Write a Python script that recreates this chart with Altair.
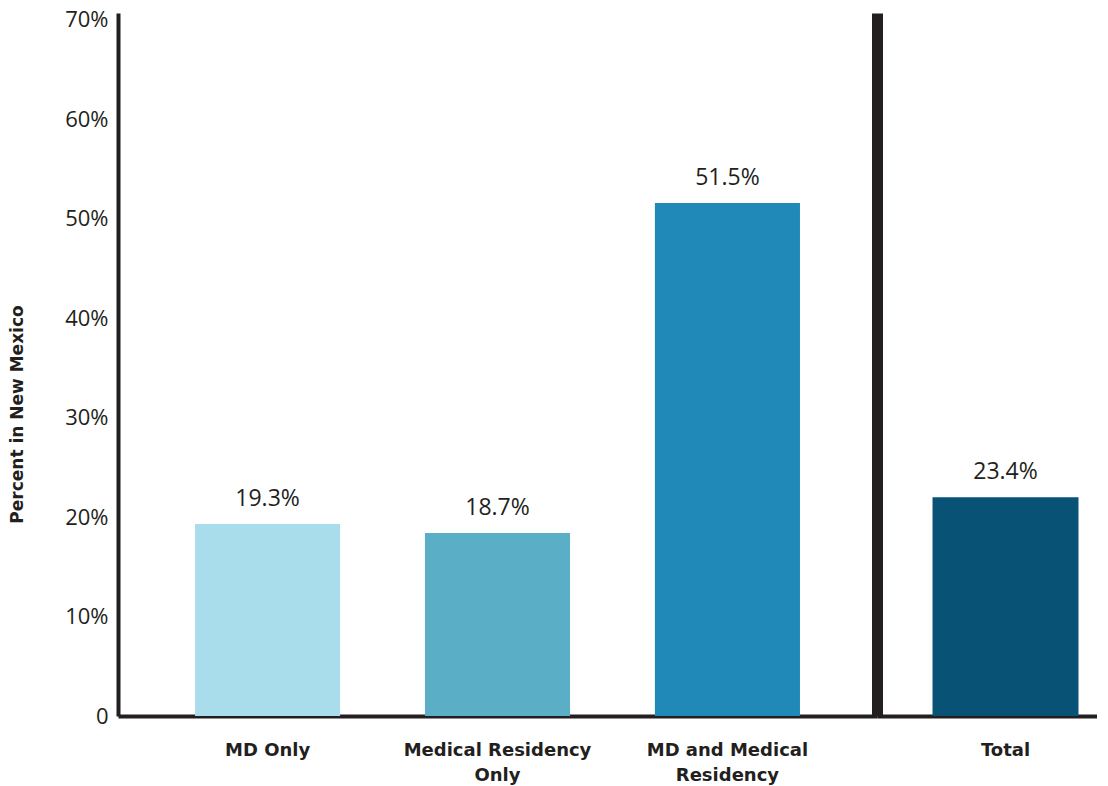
import altair as alt
import pandas as pd

categories = ["MD Only", "Medical Residency Only", "MD and Medical Residency", "Total"]
values = [19.3, 18.4, 51.6, 22.0]
value_labels = ["19.3%", "18.7%", "51.5%", "23.4%"]
colors = ["#a9ddeb", "#5aaec6", "#2189b7", "#085276"]
y_ticks = [0, 10, 20, 30, 40, 50, 60, 70]

df = pd.DataFrame({"category": categories, "value": values, "label": value_labels})
left_df = df.iloc[:3]
right_df = df.iloc[3:]

INK = "#231f20"
line_breaks = {
    "Medical Residency Only": ["Medical Residency", "Only"],
    "MD and Medical Residency": ["MD and Medical", "Residency"],
}
label_expr = ""
for k, v in line_breaks.items():
    label_expr += f"datum.label == '{k}' ? ['{v[0]}', '{v[1]}'] : "
label_expr += "datum.label"

y_scale = alt.Scale(domain=[0, 70.7], nice=False, zero=True)
color_scale = alt.Scale(domain=categories, range=colors)

x_axis = alt.Axis(
    title=None, ticks=False, tickSize=0, labelPadding=25, labelAngle=0,
    domainWidth=4, domainColor=INK, labelExpr=label_expr, labelLimit=400,
    labelFont="DejaVu Sans", labelFontWeight="bold", labelFontSize=18,
    labelColor=INK, labelLineHeight=25,
)


def panel(data, width, sort, x_scale, y_axis):
    base = alt.Chart(data).encode(
        x=alt.X("category:N", sort=sort, scale=x_scale, axis=x_axis),
        y=alt.Y("value:Q", scale=y_scale, axis=y_axis),
    )
    bars = base.mark_bar().encode(
        color=alt.Color("category:N", scale=color_scale, legend=None)
    )
    text = base.mark_text(
        baseline="alphabetic", dy=-18, font="Open Sans", fontSize=23, color=INK
    ).encode(text="label:N")
    return alt.layer(bars, text).properties(width=width, height=703)


left_axis = alt.Axis(
    values=y_ticks, ticks=False, tickSize=0, grid=False, labelPadding=10,
    domainWidth=4, domainColor=INK,
    labelExpr="datum.value == 0 ? '0' : datum.value + '%'",
    labelFont="Open Sans", labelFontSize=22, labelColor=INK,
    title="Percent in New Mexico", titleFont="DejaVu Sans", titleFontWeight="bold",
    titleFontSize=17, titleColor=INK, titleX=-101, titleY=401,
    titleAlign="center", titleBaseline="middle", titleAngle=270,
)
right_axis = alt.Axis(
    labels=False, ticks=False, tickSize=0, grid=False, title=None,
    domainWidth=11, domainColor=INK,
)

left = panel(
    left_df, 759, categories[:3],
    alt.Scale(paddingInner=0.369, paddingOuter=0.335), left_axis,
)
right = panel(
    right_df, 220, categories[3:],
    alt.Scale(paddingInner=0.369, paddingOuter=0.16, align=0.75), right_axis,
)

chart = alt.hconcat(left, right, spacing=0).properties(
    padding={"left": 0, "top": 0, "right": 0, "bottom": 6},
    background="white",
).configure_view(stroke=None)

chart.save("out.html", embed_options={"renderer": "svg", "actions": False})
